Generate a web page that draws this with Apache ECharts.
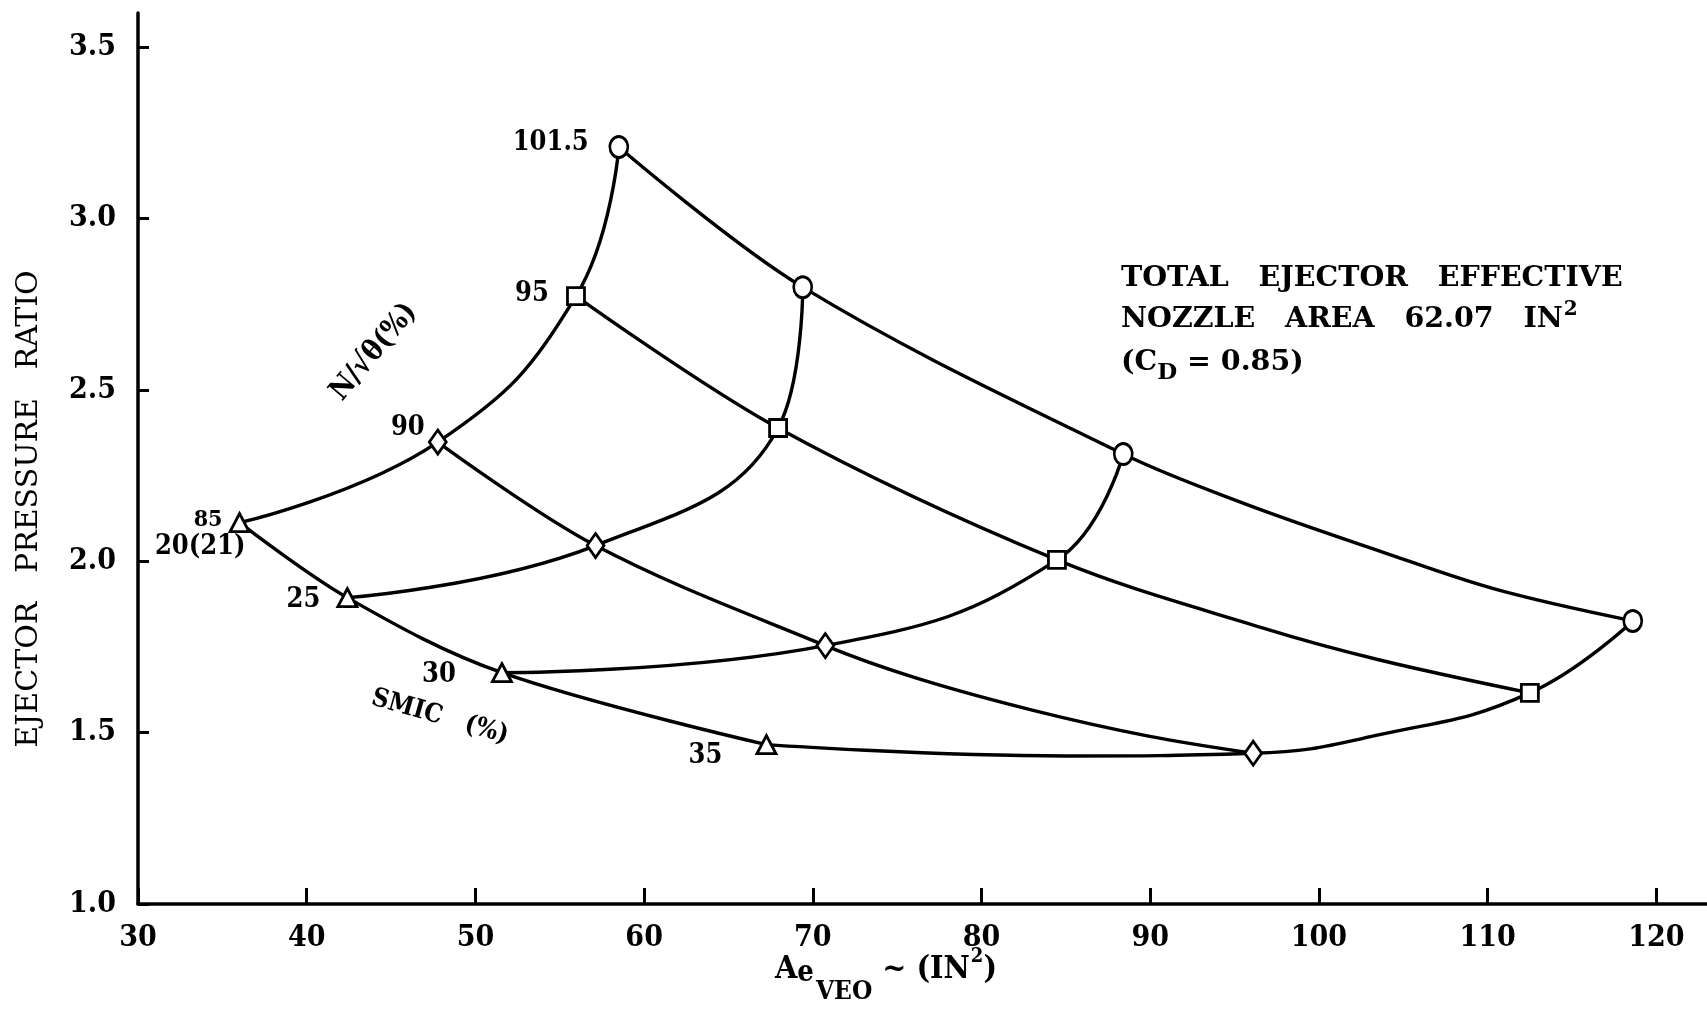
<!DOCTYPE html>
<html>
<head>
<meta charset="utf-8">
<script src="https://cdn.jsdelivr.net/npm/echarts@6/dist/echarts.min.js"></script>
<style>
html,body{margin:0;padding:0;background:#fff;}
#chart{width:1707px;height:1012px;}
</style>
</head>
<body>
<div id="chart"></div>
<script>
// ---- data ----
const smicLevels = ['20(21)', '25', '30', '35'];          // SMIC (%) per column
const speedLevels = ['101.5', '95', '90', '85'];           // N/sqrt(theta) (%)
// Ae_VEO (in^2) and ejector pressure ratio at the plotted symbols, across SMIC 20,25,30,35
const area101 = [58.5, 69.4, 88.4, 118.6];
const pr101   = [3.209, 2.800, 2.313, 1.826];
const area95  = [55.96, 67.94, 84.47, 112.5];
const pr95    = [2.774, 2.389, 2.004, 1.616];
const area90  = [47.77, 57.12, 70.74, 96.1];
const pr90    = [2.348, 2.046, 1.754, 1.44];
const area85  = [36.02, 42.41, 51.57, 67.25];
const pr85    = [2.113, 1.894, 1.675, 1.465];
// extra points traced along the drawn curves between symbols
const trace101Area = [95.5, 103.6, 110.5];
const trace101PR   = [2.17, 2.03, 1.918];
const trace95Area  = [96.7, 103.6];
const trace95PR    = [1.805, 1.712];
const trace90Area  = [76.1, 83.0, 89.9];
const trace90PR    = [1.66, 1.566, 1.49];
const traceSmic35Area = [85.0, 103.6];
const traceSmic35PR   = [1.432, 1.494];
const xTicks = [30, 40, 50, 60, 70, 80, 90, 100, 110, 120];
const yTicks = [1.0, 1.5, 2.0, 2.5, 3.0, 3.5];

// ---- styling ----
const FONT = '"DejaVu Serif Condensed","Liberation Serif",serif';
const WIDEFONT = '"DejaVu Serif","Liberation Serif",serif';
const INK = '#000';
const LW = 3.4;

const speedAreas = [area101, area95, area90, area85];
const speedPRs = [pr101, pr95, pr90, pr85];
const speedTraceAreas = [trace101Area, trace95Area, trace90Area, []];
const speedTracePRs = [trace101PR, trace95PR, trace90PR, []];
const markerSymbols = ['circle', 'rect', 'diamond', 'triangle'];
const markerSizes = [[18, 21], [17, 17], [17, 24], [19, 18]];

const pts = (xs, ys) => xs.map((x, i) => [x, ys[i]]);
const byX = (a, b) => a[0] - b[0];

const series = [];
// constant-speed curves
speedAreas.forEach((xs, k) => {
  const d = pts(xs, speedPRs[k]).concat(pts(speedTraceAreas[k], speedTracePRs[k])).sort(byX);
  series.push({
    type: 'line', name: 'N ' + speedLevels[k], data: d,
    smooth: 0.35, showSymbol: false, silent: true,
    lineStyle: {color: INK, width: LW}, z: 2
  });
});
// constant-SMIC curves
smicLevels.forEach((s, j) => {
  let d = speedAreas.map((xs, k) => [xs[j], speedPRs[k][j]]);
  if (j === 3) d = d.concat(pts(traceSmic35Area, traceSmic35PR));
  d.sort(byX);
  series.push({
    type: 'line', name: 'SMIC ' + s, data: d,
    smooth: 0.45, showSymbol: false, silent: true,
    lineStyle: {color: INK, width: LW}, z: 2
  });
});
// markers
speedAreas.forEach((xs, k) => {
  series.push({
    type: 'scatter', name: 'pts ' + speedLevels[k], data: pts(xs, speedPRs[k]),
    symbol: markerSymbols[k], symbolSize: markerSizes[k],
    itemStyle: {color: '#fff', borderColor: INK, borderWidth: 2.8, opacity: 1},
    z: 5, silent: true
  });
});
// labels: speed values at SMIC-20 points, SMIC values at 85% speed points
const speedLabelOffsets = [[-30, -4], [-27, -2], [-13, -14], [-17, -3]];
const speedLabelSizes = [27, 27, 27, 23];
const labelBase = {show: true, position: 'left', distance: 0, color: '#000', opacity: 1,
  fontFamily: FONT, fontWeight: 'bold', textBorderWidth: 0};
series.push({
  type: 'scatter', name: 'speed labels',
  data: speedAreas.map((xs, k) => ({
    value: [xs[0], speedPRs[k][0]],
    label: Object.assign({}, labelBase, {formatter: speedLevels[k],
      offset: speedLabelOffsets[k], fontSize: speedLabelSizes[k]})
  })),
  symbolSize: 0.1, itemStyle: {color: '#000', opacity: 1}, z: 6, silent: true
});
const smicLabelOffsets = [[6, 24], [-27, 2], [-46, 2], [-44, 11]];
series.push({
  type: 'scatter', name: 'smic labels',
  data: smicLevels.map((s, j) => ({
    value: [area85[j], pr85[j]],
    label: Object.assign({}, labelBase, {formatter: s,
      offset: smicLabelOffsets[j], fontSize: 27})
  })),
  symbolSize: 0.1, itemStyle: {color: '#000', opacity: 1}, z: 6, silent: true
});

const chart = echarts.init(document.getElementById('chart'), null, {renderer: 'canvas'});
chart.setOption({
  backgroundColor: '#fff',
  animation: false,
  grid: {left: 138, right: 0, top: 13, bottom: 108, containLabel: false},
  xAxis: {
    type: 'value', min: 30, max: 123, interval: 10,
    axisLine: {show: true, onZero: false, lineStyle: {color: INK, width: 3.5}},
    axisTick: {show: true, inside: true, length: 16, lineStyle: {color: INK, width: 3}, customValues: xTicks},
    axisLabel: {color: INK, fontFamily: FONT, fontWeight: 'bold', fontSize: 30, margin: 19, customValues: xTicks},
    splitLine: {show: false}
  },
  yAxis: {
    type: 'value', min: 1.0, max: 3.6, interval: 0.5,
    axisLine: {show: true, onZero: false, lineStyle: {color: INK, width: 3.5}},
    axisTick: {show: true, inside: true, length: 11, lineStyle: {color: INK, width: 3}, customValues: yTicks},
    axisLabel: {color: INK, fontFamily: FONT, fontWeight: 'bold', fontSize: 30, margin: 22,
      customValues: yTicks, formatter: v => Number(v).toFixed(1)},
    splitLine: {show: false}
  },
  graphic: [
    {type: 'text', x: 29, y: 509, rotation: Math.PI / 2, silent: true,
      style: {text: 'EJECTOR   PRESSURE   RATIO', fill: INK, fontFamily: WIDEFONT,
        fontSize: 30, align: 'center', verticalAlign: 'middle'}},
    {type: 'text', x: 886, y: 970, silent: true,
      style: {text: '{a|A}{e|e}{s|VEO}{a| ~ (IN}{p|2}{a|)}', fill: INK, align: 'center', verticalAlign: 'middle',
        rich: {
          a: {fontSize: 32, fontWeight: 'bold', fontFamily: FONT, fill: INK},
          e: {fontSize: 29, fontWeight: 'bold', fontFamily: FONT, fill: INK, padding: [6, 0, 0, 0]},
          s: {fontSize: 26, fontWeight: 'bold', fontFamily: FONT, fill: INK, padding: [44, 0, 0, 2]},
          p: {fontSize: 20, fontWeight: 'bold', fontFamily: FONT, fill: INK, padding: [0, 0, 26, 1]}
        }}},
    {type: 'text', x: 1121, y: 258, silent: true,
      style: {text: '{m|TOTAL   EJECTOR   EFFECTIVE}\n{m|NOZZLE   AREA   62.07   IN}{p|2}\n{m|(C}{s|D}{m| = 0.85)}',
        fill: INK, align: 'left', verticalAlign: 'top',
        rich: {
          m: {fontSize: 28.5, fontWeight: 'bold', fontFamily: WIDEFONT, fill: INK, lineHeight: 41},
          p: {fontSize: 20, fontWeight: 'bold', fontFamily: WIDEFONT, fill: INK, padding: [0, 0, 20, 1]},
          s: {fontSize: 23, fontWeight: 'bold', fontFamily: WIDEFONT, fill: INK, padding: [22, 0, 0, 0]}
        }}},
    {type: 'text', x: 374, y: 352, rotation: 50 * Math.PI / 180, silent: true,
      style: {text: 'N/√θ(%)', fill: INK, fontFamily: FONT, fontWeight: 'bold',
        fontSize: 29, align: 'center', verticalAlign: 'middle'}},
    {type: 'text', x: 440, y: 717, rotation: -16 * Math.PI / 180, silent: true,
      style: {text: 'SMIC   (%)', fill: INK, fontFamily: FONT, fontWeight: 'bold',
        fontSize: 26, align: 'center', verticalAlign: 'middle'}}
  ],
  series: series
});
</script>
</body>
</html>
